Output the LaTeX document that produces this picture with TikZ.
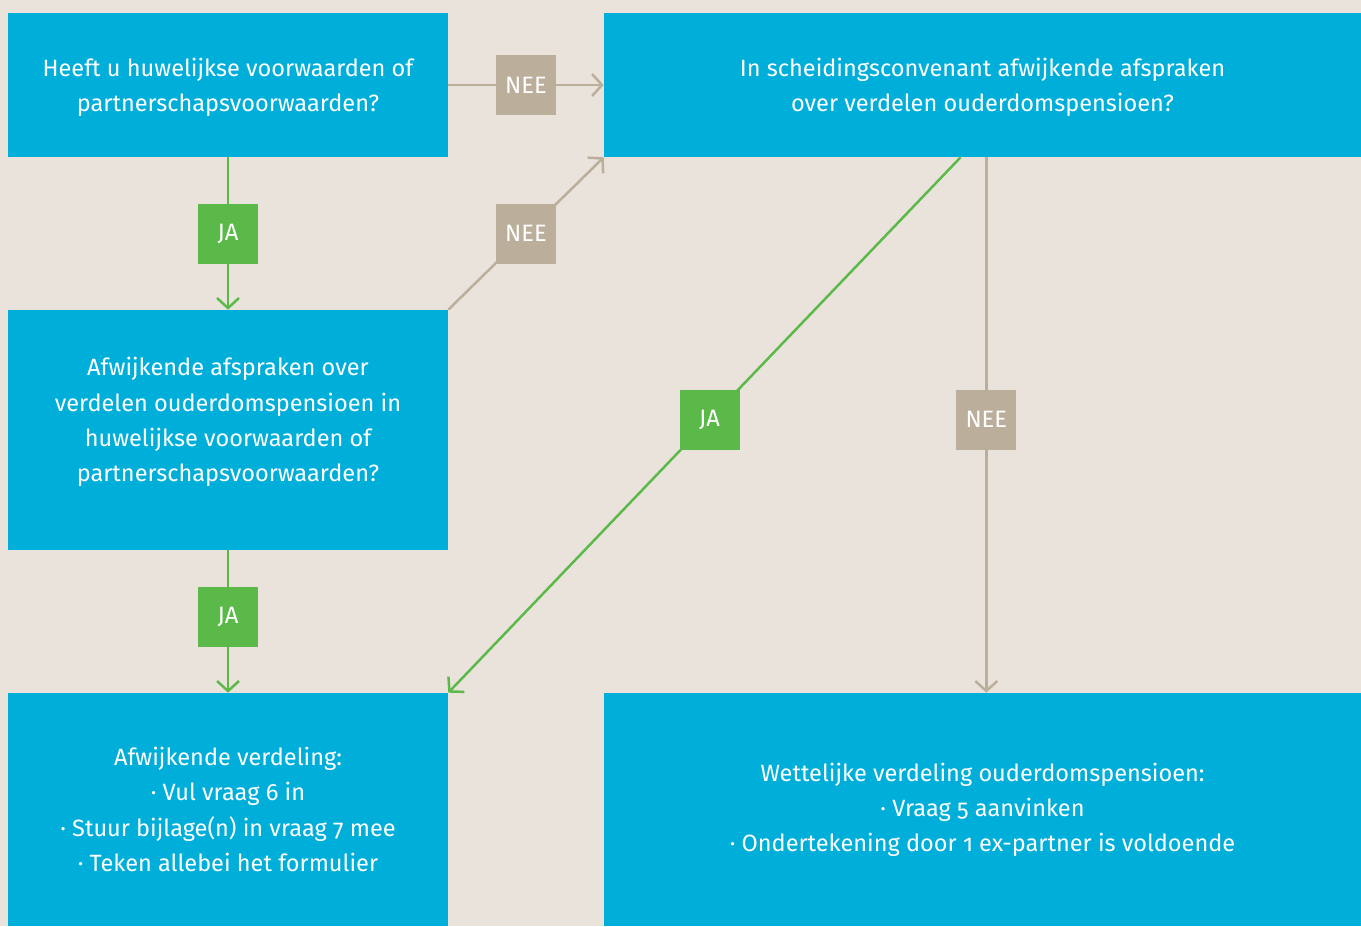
\documentclass[tikz,border=0pt]{standalone}
\usepackage{fontspec}
\setmainfont{Fira Sans}[Numbers=OldStyle]
\usetikzlibrary{arrows.meta,positioning,calc}
\definecolor{bgbeige}{HTML}{EAE3DB}
\definecolor{boxblue}{HTML}{00AEDA}
\definecolor{neebeige}{HTML}{BBAE9A}
\definecolor{jagreen}{HTML}{5BB949}
\tikzset{
  vraag/.style={fill=boxblue,text=white,align=center,inner sep=0pt,
    font=\fontsize{13.4}{20}\selectfont},
  keuze/.style={minimum size=1.2cm,inner sep=0pt,text=white,
    font=\fontsize{13.5}{15}\selectfont},
  ja/.style={keuze,fill=jagreen},
  nee/.style={keuze,fill=neebeige},
  jalijn/.style={draw=jagreen,line width=1.4pt,-{Straight Barb[length=2mm,width=4.4mm]}},
  neelijn/.style={draw=neebeige,line width=1.4pt,-{Straight Barb[length=2mm,width=4.4mm]}}
}
\begin{document}
\begin{tikzpicture}[x=0.02cm,y=-0.02cm]
\fill[bgbeige] (0,0) rectangle (1361,926);
\useasboundingbox (0,0) rectangle (1361,926);
\node[vraag,minimum width=8.8cm,minimum height=2.88cm] (huw) at (228,85)
  {\\[-7pt]Heeft u huwelijkse voorwaarden of\\partnerschapsvoorwaarden?};
\node[vraag,minimum width=15.14cm,minimum height=2.88cm] (conv) at (982.5,85)
  {\\[-7pt]In scheidingsconvenant afwijkende afspraken\\over verdelen ouderdomspensioen?};
\node[vraag,minimum width=8.8cm,minimum height=4.8cm] (afspr) at (228,430)
  {Afwijkende afspraken over\\verdelen ouderdomspensioen in\\huwelijkse voorwaarden of\\partnerschapsvoorwaarden?\\[-8pt]};
\node[vraag,minimum width=8.8cm,minimum height=4.66cm] (afw) at (228,809.5)
  {Afwijkende verdeling:\\· Vul vraag 6 in\\· Stuur bijlage(n) in vraag 7 mee\\· Teken allebei het formulier};
\node[vraag,minimum width=15.14cm,minimum height=4.66cm] (wet) at (982.5,809.5)
  {Wettelijke verdeling ouderdomspensioen:\\· Vraag 5 aanvinken\\· Ondertekening door 1 ex-partner is voldoende};
\coordinate (c1) at ($(conv.south west)!0.471!(conv.south east)$);
\coordinate (c2) at ($(conv.south west)!0.505!(conv.south east)$);
\draw[neelijn] (huw.east) -- node[nee]{NEE} (conv.west);
\draw[jalijn] (huw.south) -- node[ja]{JA} (afspr.north);
\draw[neelijn] (afspr.north east) -- node[nee]{NEE} (conv.south west);
\draw[jalijn] (afspr.south) -- node[ja,pos=0.47]{JA} (afw.north);
\draw[jalijn] (c1) -- node[ja,pos=0.49]{JA} (afw.north east);
\draw[neelijn] (c2) -- node[nee,pos=0.49]{NEE} (c2 |- wet.north);
\end{tikzpicture}
\end{document}
